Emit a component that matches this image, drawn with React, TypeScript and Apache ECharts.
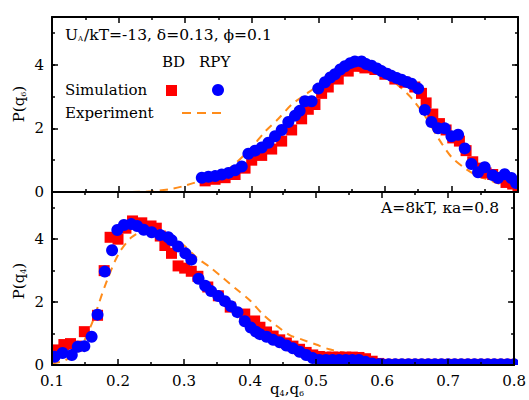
import React, { useEffect, useRef } from "react";
import * as echarts from "echarts";

// ---------- data ----------
const xTicks = [0.1, 0.2, 0.3, 0.4, 0.5, 0.6, 0.7, 0.8];
const yTicks = [0, 2, 4];

// top panel: P(q6)
const q6BD: number[][] = [
  [0.33, 0.35], [0.345, 0.4], [0.36, 0.45], [0.375, 0.55], [0.39, 0.75], [0.4, 1.0],
  [0.415, 1.15], [0.43, 1.35], [0.445, 1.6], [0.46, 1.95], [0.475, 2.3], [0.485, 2.6],
  [0.495, 2.75], [0.505, 3.1], [0.515, 3.3], [0.53, 3.55], [0.545, 3.8], [0.56, 3.95],
  [0.57, 3.9], [0.585, 3.85], [0.6, 3.7], [0.615, 3.55], [0.63, 3.45], [0.645, 3.3],
  [0.655, 3.1], [0.662, 2.8], [0.672, 2.45], [0.682, 2.15], [0.692, 1.95], [0.702, 1.7],
  [0.712, 1.6], [0.722, 1.3], [0.732, 0.95], [0.742, 0.75], [0.752, 0.6], [0.762, 0.55],
  [0.772, 0.45], [0.782, 0.3], [0.792, 0.25], [0.8, 0.2],
];
const q6RPY: number[][] = [
  [0.325, 0.45], [0.335, 0.48], [0.345, 0.5], [0.355, 0.55], [0.365, 0.6], [0.375, 0.68],
  [0.385, 0.8], [0.395, 1.2], [0.405, 1.3], [0.415, 1.4], [0.425, 1.55], [0.435, 1.75],
  [0.445, 1.95], [0.455, 2.2], [0.465, 2.4], [0.472, 2.55], [0.48, 2.85], [0.49, 2.85],
  [0.5, 3.25], [0.51, 3.45], [0.518, 3.6], [0.525, 3.7], [0.533, 3.85], [0.54, 3.95],
  [0.548, 4.05], [0.555, 4.1], [0.565, 4.1], [0.572, 4.02], [0.58, 3.97], [0.588, 3.88],
  [0.595, 3.8], [0.603, 3.72], [0.61, 3.65], [0.618, 3.58], [0.625, 3.53], [0.633, 3.46],
  [0.64, 3.4], [0.65, 3.25], [0.66, 2.58], [0.67, 2.2], [0.68, 2.0], [0.69, 2.0],
  [0.7, 1.75], [0.71, 1.8], [0.72, 1.37], [0.73, 0.88], [0.74, 0.62], [0.75, 0.78],
  [0.762, 0.53], [0.77, 0.44], [0.78, 0.56], [0.79, 0.44], [0.797, 0.28],
];
const q6Exp: number[][] = [
  [0.22, 0.0], [0.25, 0.02], [0.28, 0.1], [0.3, 0.2], [0.33, 0.4], [0.35, 0.55],
  [0.37, 0.8], [0.4, 1.4], [0.42, 1.9], [0.44, 2.3], [0.46, 2.75], [0.48, 3.05],
  [0.5, 3.35], [0.52, 3.6], [0.54, 3.75], [0.56, 3.82], [0.58, 3.8], [0.6, 3.65],
  [0.62, 3.35], [0.64, 2.95], [0.66, 2.4], [0.68, 1.7], [0.7, 1.1], [0.72, 0.75],
  [0.74, 0.5], [0.76, 0.35], [0.78, 0.2], [0.8, 0.1],
];

// bottom panel: P(q4)
const q4BD: number[][] = [
  [0.108, 0.48], [0.118, 0.65], [0.128, 0.68], [0.137, 0.6], [0.149, 1.06], [0.169, 1.58],
  [0.179, 3.0], [0.188, 4.06], [0.2, 4.0], [0.212, 4.35], [0.222, 4.58], [0.236, 4.52],
  [0.25, 4.42], [0.258, 4.35], [0.264, 4.1], [0.271, 3.8], [0.281, 3.55], [0.291, 3.15],
  [0.301, 3.08], [0.311, 2.98], [0.321, 2.82], [0.336, 2.48], [0.352, 2.2], [0.37, 1.84],
  [0.392, 1.62], [0.407, 1.4], [0.415, 1.2], [0.425, 1.05], [0.435, 0.92], [0.445, 0.8],
  [0.455, 0.7], [0.465, 0.6], [0.475, 0.5], [0.485, 0.4], [0.495, 0.32], [0.505, 0.27],
  [0.515, 0.25], [0.525, 0.25], [0.535, 0.25], [0.545, 0.25], [0.555, 0.25], [0.565, 0.24],
  [0.575, 0.2], [0.585, 0.12], [0.595, 0.05], [0.605, 0.02], [0.615, 0.02], [0.625, 0.02],
  [0.635, 0.02], [0.645, 0.02], [0.655, 0.02], [0.665, 0.02], [0.675, 0.02], [0.685, 0.02],
  [0.695, 0.02], [0.705, 0.02], [0.715, 0.02], [0.725, 0.02], [0.735, 0.02], [0.745, 0.02],
  [0.755, 0.02], [0.765, 0.02], [0.775, 0.02], [0.785, 0.02], [0.795, 0.02],
];
const q4RPY: number[][] = [
  [0.104, 0.26], [0.116, 0.38], [0.13, 0.32], [0.139, 0.58], [0.149, 0.6], [0.16, 0.9],
  [0.169, 1.6], [0.18, 2.97], [0.191, 3.65], [0.199, 4.29], [0.209, 4.45], [0.22, 4.48],
  [0.229, 4.42], [0.239, 4.3], [0.251, 4.22], [0.264, 4.13], [0.276, 4.06], [0.281, 3.97],
  [0.291, 3.77], [0.302, 3.55], [0.311, 3.35], [0.322, 2.74], [0.332, 2.52], [0.341, 2.35],
  [0.352, 2.19], [0.362, 2.03], [0.371, 1.87], [0.381, 1.68], [0.392, 1.39], [0.401, 1.19],
  [0.409, 1.06], [0.415, 0.98], [0.425, 0.9], [0.435, 0.8], [0.445, 0.72], [0.455, 0.62],
  [0.465, 0.53], [0.475, 0.42], [0.485, 0.32], [0.495, 0.22], [0.505, 0.16], [0.515, 0.16],
  [0.525, 0.16], [0.535, 0.16], [0.545, 0.16], [0.555, 0.16], [0.565, 0.16], [0.575, 0.1],
  [0.585, 0.05], [0.595, 0.02], [0.6, 0.02], [0.61, 0.02], [0.62, 0.02], [0.63, 0.02],
  [0.64, 0.02], [0.65, 0.02], [0.66, 0.02], [0.67, 0.02], [0.68, 0.02], [0.69, 0.02],
  [0.7, 0.02], [0.71, 0.02], [0.72, 0.02], [0.73, 0.02], [0.74, 0.02], [0.75, 0.02],
  [0.76, 0.02], [0.77, 0.02], [0.78, 0.02], [0.79, 0.02], [0.8, 0.02],
];
const q4Exp: number[][] = [
  [0.1, 0.05], [0.12, 0.15], [0.14, 0.45], [0.16, 1.3], [0.18, 2.5], [0.2, 3.5],
  [0.22, 4.05], [0.24, 4.25], [0.26, 4.25], [0.28, 4.1], [0.3, 3.8], [0.32, 3.4],
  [0.34, 3.1], [0.36, 2.75], [0.38, 2.4], [0.4, 2.05], [0.42, 1.6], [0.44, 1.25],
  [0.46, 0.95], [0.48, 0.8], [0.5, 0.65], [0.52, 0.5], [0.54, 0.4], [0.56, 0.3],
  [0.58, 0.2], [0.6, 0.1],
];

const FONT = "DejaVu Serif";
const RED = "#ff0000";
const BLUE = "#0000ff";
const ORANGE = "#ff8c1a";

const L = 52, R = 11, T1 = 17, MID = 192, B = 365;

function xAxis(grid: number, pos: string, labels: boolean) {
  return {
    type: "value", gridIndex: grid, position: pos, min: xTicks[0], max: xTicks[xTicks.length - 1],
    interval: 0.1, z: 10,
    axisLine: { show: true, onZero: false, lineStyle: { color: "#000", width: 2 } },
    axisTick: { show: true, inside: true, length: 6, lineStyle: { color: "#000", width: 1.5 } },
    minorTick: { show: true, splitNumber: 2, length: 3, lineStyle: { color: "#000", width: 1.5 } },
    splitLine: { show: false }, minorSplitLine: { show: false },
    axisLabel: {
      show: labels, formatter: (v: number) => v.toFixed(1), fontFamily: FONT, fontSize: 15,
      color: "#000", margin: 8,
    },
  };
}
function yAxis(grid: number, pos: string, major: boolean, labels: boolean) {
  return {
    type: "value", gridIndex: grid, position: pos, min: 0, max: 5.5, interval: major ? 2 : 1, z: 10,
    axisLine: { show: major, onZero: false, lineStyle: { color: "#000", width: 2 } },
    axisTick: { show: true, inside: true, length: major ? 6 : 3, lineStyle: { color: "#000", width: 1.5 } },
    splitLine: { show: false },
    axisLabel: {
      show: labels, showMaxLabel: false, fontFamily: FONT, fontSize: 15, color: "#000", margin: 8,
      formatter: (v: number) => (yTicks.includes(v) ? String(v) : ""),
    },
  };
}

export default function App() {
  const ref = useRef<HTMLDivElement>(null);
  useEffect(() => {
    if (!ref.current) return;
    const chart = echarts.init(ref.current, undefined, { renderer: "svg" });
    const scatter = (data: number[][], xi: number, yi: number, red: boolean) => ({
      type: "scatter", xAxisIndex: xi, yAxisIndex: yi, data,
      symbol: red ? "rect" : "circle", symbolSize: red ? 11 : 12, z: red ? 2 : 3,
      itemStyle: { color: red ? RED : BLUE, opacity: 1 }, clip: false,
    });
    const line = (data: number[][], xi: number, yi: number) => ({
      type: "line", xAxisIndex: xi, yAxisIndex: yi, data, showSymbol: false, smooth: 0.3, z: 1,
      lineStyle: { color: ORANGE, width: 2, type: [8, 6] },
    });
    const txt = { fontFamily: FONT, fontSize: 15, fill: "#000" };
    chart.setOption({
      animation: false,
      backgroundColor: "#fff",
      grid: [
        { left: L, right: R, top: T1, height: MID - T1 },
        { left: L, right: R, top: MID, height: B - MID },
      ],
      xAxis: [xAxis(0, "bottom", false), xAxis(0, "top", false), xAxis(1, "bottom", true), xAxis(1, "top", false)],
      yAxis: [
        yAxis(0, "left", true, true), yAxis(0, "left", false, false),
        yAxis(0, "right", true, false), yAxis(0, "right", false, false),
        yAxis(1, "left", true, true), yAxis(1, "left", false, false),
        yAxis(1, "right", true, false), yAxis(1, "right", false, false),
      ],
      series: [
        line(q6Exp, 0, 0), scatter(q6BD, 0, 0, true), scatter(q6RPY, 0, 0, false),
        line(q4Exp, 2, 4), scatter(q4BD, 2, 4, true), scatter(q4RPY, 2, 4, false),
      ],
      graphic: [
        // masks to clip markers at the frame
        { type: "rect", z: 5, silent: true, shape: { x: 0, y: B, width: 529, height: 40 }, style: { fill: "#fff" } },
        { type: "rect", z: 5, silent: true, shape: { x: 0, y: 0, width: L, height: 400 }, style: { fill: "#fff" } },
        { type: "rect", z: 5, silent: true, shape: { x: 529 - R, y: 0, width: R, height: 400 }, style: { fill: "#fff" } },
        { type: "rect", z: 5, silent: true, shape: { x: 0, y: 0, width: 529, height: T1 }, style: { fill: "#fff" } },
        {
          type: "text", z: 20, x: 65, y: 35,
          style: {
            ...txt, fontSize: 15.5, text: "U{s|A}/kT=-13, δ=0.13, ϕ=0.1", textVerticalAlign: "middle",
            rich: { s: { fontFamily: FONT, fontSize: 7, fill: "#000", padding: [8, 1, 0, 0] } },
          },
        },
        { type: "text", z: 20, x: 162, y: 62, style: { ...txt, text: "BD", textVerticalAlign: "middle" } },
        { type: "text", z: 20, x: 199, y: 62, style: { ...txt, text: "RPY", textVerticalAlign: "middle" } },
        { type: "text", z: 20, x: 65, y: 90, style: { ...txt, text: "Simulation", textVerticalAlign: "middle" } },
        { type: "text", z: 20, x: 65, y: 113, style: { ...txt, text: "Experiment", textVerticalAlign: "middle" } },
        { type: "rect", z: 20, shape: { x: 166, y: 85, width: 11, height: 11 }, style: { fill: RED } },
        { type: "circle", z: 20, shape: { cx: 218, cy: 90, r: 6 }, style: { fill: BLUE } },
        { type: "line", z: 20, shape: { x1: 182, y1: 113, x2: 224, y2: 113 }, style: { stroke: ORANGE, lineWidth: 2, lineDash: [9, 6] } },
        {
          type: "text", z: 20, x: 499, y: 208,
          style: { ...txt, fontSize: 15.5, text: "A=8kT, κa=0.8", textAlign: "right", textVerticalAlign: "middle" },
        },
        {
          type: "text", z: 20, x: 19, y: 104, rotation: Math.PI / 2,
          style: {
            ...txt, text: "P(q{s|6})", textAlign: "center", textVerticalAlign: "middle",
            rich: { s: { fontFamily: FONT, fontSize: 8, fill: "#000", padding: [8, 0, 0, 0] } },
          },
        },
        {
          type: "text", z: 20, x: 19, y: 281, rotation: Math.PI / 2,
          style: {
            ...txt, text: "P(q{s|4})", textAlign: "center", textVerticalAlign: "middle",
            rich: { s: { fontFamily: FONT, fontSize: 8, fill: "#000", padding: [8, 0, 0, 0] } },
          },
        },
        {
          type: "text", z: 20, x: 287, y: 389,
          style: {
            ...txt, text: "q{s|4},q{s|6}", textAlign: "center", textVerticalAlign: "middle",
            rich: { s: { fontFamily: FONT, fontSize: 8, fill: "#000", padding: [8, 0, 0, 0] } },
          },
        },
      ],
    });
    return () => chart.dispose();
  }, []);
  return <div ref={ref} style={{ width: 529, height: 400, position: "absolute", left: 0, top: 0 }} />;
}
